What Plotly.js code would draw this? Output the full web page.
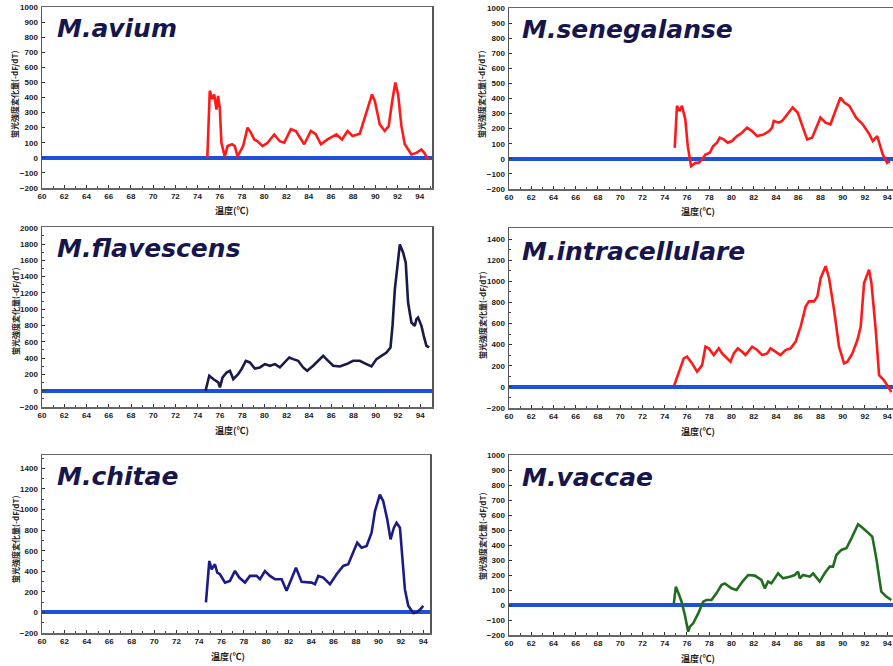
<!DOCTYPE html>
<html>
<head>
<meta charset="utf-8">
<script src="https://cdn.plot.ly/plotly-3.0.1.min.js"></script>
<style>
html,body{margin:0;padding:0;overflow:hidden;background:#fff;}
#chart{width:910px;height:666px;}
</style>
</head>
<body>
<div id="chart"></div>
<script>
// ---------- data ----------
const speciesNames = ["M.avium", "M.senegalanse", "M.flavescens", "M.intracellulare", "M.chitae", "M.vaccae"];
const xTitle = "温度(℃)";
const yTitle = "蛍光強度変化量(-dF/dT)";

const aviumT = [74.88,75.1,75.3,75.5,75.7,75.85,76.0,76.15,76.45,76.7,77.1,77.35,77.6,77.85,78.1,78.5,78.8,79.1,79.4,79.85,80.3,80.9,81.4,81.8,82.4,82.85,83.6,84.2,84.65,85.1,85.7,86.5,87.0,87.5,87.95,88.6,89.0,89.7,89.95,90.4,90.85,91.2,91.5,91.8,92.05,92.35,92.65,93.25,93.7,94.15,94.4,94.75];
const aviumV = [0,445,390,420,320,410,330,100,10,78,90,78,10,45,78,200,167,122,110,78,100,155,110,100,190,178,90,178,155,90,122,155,122,178,145,160,255,420,378,222,178,210,367,500,420,210,90,22,33,55,33,-10];

const senegT = [74.9,75.1,75.33,75.55,75.85,76.07,76.37,76.75,77.05,77.35,77.66,78.05,78.35,78.7,78.95,79.3,79.67,80.05,80.5,80.95,81.4,81.85,82.3,82.9,83.4,83.65,83.8,84.25,84.55,85.0,85.5,85.95,86.4,86.8,87.25,87.7,88.0,88.45,88.9,89.4,89.8,90.15,90.6,91.2,91.8,92.4,92.7,93.1,93.6,94.0,94.25];
const senegV = [73,351,318,351,262,84,-49,-27,-27,-4,29,40,84,107,140,129,107,118,151,173,207,184,151,162,184,207,251,240,251,296,340,307,207,129,140,218,273,240,229,329,407,373,351,273,229,162,118,151,29,-27,-16];

const flavT = [74.7,75.03,75.39,75.84,75.99,76.23,76.59,76.89,77.19,77.63,77.93,78.32,78.68,79.13,79.58,80.03,80.48,80.93,81.38,81.83,82.22,82.57,83.02,83.47,83.83,84.37,84.82,85.27,85.72,86.17,86.77,87.37,87.96,88.56,89.16,89.61,90.06,90.51,90.96,91.32,91.5,91.71,92.01,92.16,92.46,92.69,92.9,93.2,93.5,93.65,93.8,94.1,94.31,94.55,94.79];
const flavV = [0,184,143,102,41,163,224,245,143,204,265,367,347,273,286,327,306,327,286,347,408,388,367,286,245,306,367,429,367,306,298,327,367,367,327,298,388,429,469,531,796,1245,1612,1796,1694,1571,1082,837,796,878,898,796,673,551,531];

const intraT = [74.86,75.26,75.71,76.01,76.46,76.91,77.36,77.66,77.96,78.41,78.86,79.16,79.61,79.91,80.21,80.57,80.96,81.26,81.86,82.31,82.76,83.21,83.51,83.96,84.41,84.86,85.32,85.77,86.22,86.67,86.97,87.42,87.72,88.02,88.47,88.77,89.22,89.67,90.12,90.42,90.87,91.32,91.62,91.92,92.16,92.37,92.58,92.97,93.27,93.72,94.08,94.38];
const intraV = [16,127,270,286,222,143,206,381,365,302,365,317,270,238,317,365,333,302,381,349,302,317,365,333,302,349,365,429,571,762,810,810,857,1032,1143,1032,730,381,222,238,317,444,571,984,1048,1111,984,540,111,63,0,-48];

const chitaeT = [74.62,74.92,75.13,75.42,75.63,75.87,76.32,76.76,77.21,77.59,78.1,78.54,79.14,79.44,79.88,80.33,80.77,81.37,81.81,82.11,82.65,83.15,83.6,84.04,84.34,84.64,85.08,85.68,86.27,86.86,87.31,87.76,88.11,88.5,88.95,89.39,89.69,90.13,90.43,90.79,91.08,91.38,91.62,91.92,92.15,92.36,92.66,93.11,93.4,93.76,94.0];
const chitaeV = [97,500,419,468,387,371,290,306,403,339,290,355,355,323,403,355,323,323,210,290,435,297,297,290,274,355,339,274,371,452,468,581,677,629,645,774,984,1145,1081,903,710,823,871,823,548,226,65,-6,0,32,65];

const vaccaeT = [74.82,75.0,75.3,75.51,75.81,76.11,76.26,76.56,77.01,77.46,77.75,78.2,78.65,79.1,79.4,80.0,80.45,80.99,81.5,82.1,82.69,82.99,83.29,83.59,84.19,84.64,85.24,85.69,85.99,86.14,86.44,87.04,87.34,87.93,88.38,88.83,89.13,89.43,89.88,90.33,90.78,91.38,91.83,92.28,92.66,93.02,93.47,93.92,94.37];
const vaccaeV = [11,122,67,22,-67,-178,-144,-122,-56,22,33,33,78,133,144,111,100,156,200,196,167,111,156,144,211,178,189,200,222,178,200,189,211,156,211,256,256,333,367,378,444,538,511,478,456,311,89,56,33];

const yTops = [1000, 1000, 2010, 1505, 1530, 1000];
const yDticks = [100, 100, 200, 200, 200, 100];

// ---------- layout geometry (pixels) ----------
const W = 910, H = 666;
const panels = [
  {x0:42,  x1:432, y0:7,   y1:188, xEnd:95.1,  col:'#ff1a1a', t:aviumT,  v:aviumV,  tx:55,  ty:29,  ytx:15,  yty:95,  xtx:232, xty:210},
  {x0:509, x1:905, y0:8,   y1:189, xEnd:95.6,  col:'#ff1a1a', t:senegT,  v:senegV,  tx:520, ty:30,  ytx:482, yty:95,  xtx:698, xty:211},
  {x0:42,  x1:432, y0:227, y1:407, xEnd:95.05, col:'#1a1a48', t:flavT,   v:flavV,   tx:55,  ty:249, ytx:15,  yty:312, xtx:232, xty:430},
  {x0:509, x1:905, y0:228, y1:408, xEnd:95.6,  col:'#ff1a1a', t:intraT,  v:intraV,  tx:520, ty:251, ytx:482, yty:316, xtx:698, xty:431},
  {x0:42,  x1:430, y0:455, y1:633, xEnd:94.6,  col:'#1c1c88', t:chitaeT, v:chitaeV, tx:55,  ty:476, ytx:15,  yty:540, xtx:228, xty:656},
  {x0:509, x1:905, y0:455, y1:635, xEnd:95.6,  col:'#1f6e1f', t:vaccaeT, v:vaccaeV, tx:520, ty:477, ytx:482, yty:537, xtx:698, xty:658}
];

const traces = [];
const layout = {
  width: W, height: H,
  margin: {l:0, r:0, t:0, b:0},
  paper_bgcolor: '#fff', plot_bgcolor: '#fff',
  showlegend: false,
  annotations: []
};

const tickFont = {family:'Liberation Sans, Arial, sans-serif', size:8, color:'#1a1a1a', weight:'bold'};

panels.forEach((p, i) => {
  const n = i + 1;
  const sfx = (n === 1 ? '' : String(n));
  const xa = 'xaxis' + sfx;
  const ya = 'yaxis' + sfx;
  traces.push({
    type: 'scatter', mode: 'lines',
    x: p.t, y: p.v,
    xaxis: 'x' + sfx, yaxis: 'y' + sfx,
    line: {color: p.col, width: 2.6, shape: 'linear'},
    hoverinfo: 'skip'
  });
  layout[xa] = {
    domain: [p.x0 / W, p.x1 / W],
    anchor: 'y' + sfx,
    range: [60, p.xEnd],
    dtick: 2, tick0: 60,
    ticks: 'inside', ticklen: 3, tickwidth: 1, tickcolor: '#333',
    minor: {dtick: 1, ticks: 'inside', ticklen: 2, tickcolor: '#444', showgrid: false},
    showgrid: false, zeroline: false,
    showline: true, mirror: true, linecolor: '#666', linewidth: 1.5,
    tickfont: tickFont, fixedrange: true
  };
  layout[ya] = {
    domain: [1 - p.y1 / H, 1 - p.y0 / H],
    anchor: 'x' + sfx,
    range: [-200, yTops[i]],
    dtick: yDticks[i], tick0: 0,
    ticks: 'inside', ticklen: 3, tickwidth: 1, tickcolor: '#333',
    showgrid: false,
    zeroline: true, zerolinecolor: '#1f50dc', zerolinewidth: 4,
    showline: true, mirror: true, linecolor: '#555', linewidth: 1.5,
    tickfont: tickFont, ticklabelstandoff: 1, fixedrange: true
  };
  if (yDticks[i] === 200) {
    layout[ya].minor = {dtick: 100, ticks: 'inside', ticklen: 2, tickcolor: '#444', showgrid: false};
  }

  // species title
  layout.annotations.push({
    xref: 'paper', yref: 'paper',
    x: p.tx / W, y: 1 - p.ty / H,
    xanchor: 'left', yanchor: 'middle',
    text: '<b><i>' + speciesNames[i] + '</i></b>',
    showarrow: false,
    font: {family: 'DejaVu Sans, sans-serif', size: 25, color: '#16164c'}
  });
  // y title
  layout.annotations.push({
    xref: 'paper', yref: 'paper',
    x: p.ytx / W, y: 1 - p.yty / H,
    xanchor: 'center', yanchor: 'middle',
    text: yTitle, textangle: -90, showarrow: false,
    font: {family: 'Noto Sans CJK JP, sans-serif', size: 8, color: '#222', weight: 'bold'}
  });
  // x title
  layout.annotations.push({
    xref: 'paper', yref: 'paper',
    x: p.xtx / W, y: 1 - p.xty / H,
    xanchor: 'center', yanchor: 'middle',
    text: xTitle, showarrow: false,
    font: {family: 'Noto Sans CJK JP, sans-serif', size: 9, color: '#222', weight: 'bold'}
  });
});

Plotly.newPlot('chart', traces, layout, {staticPlot: true, displayModeBar: false});
</script>
</body>
</html>
